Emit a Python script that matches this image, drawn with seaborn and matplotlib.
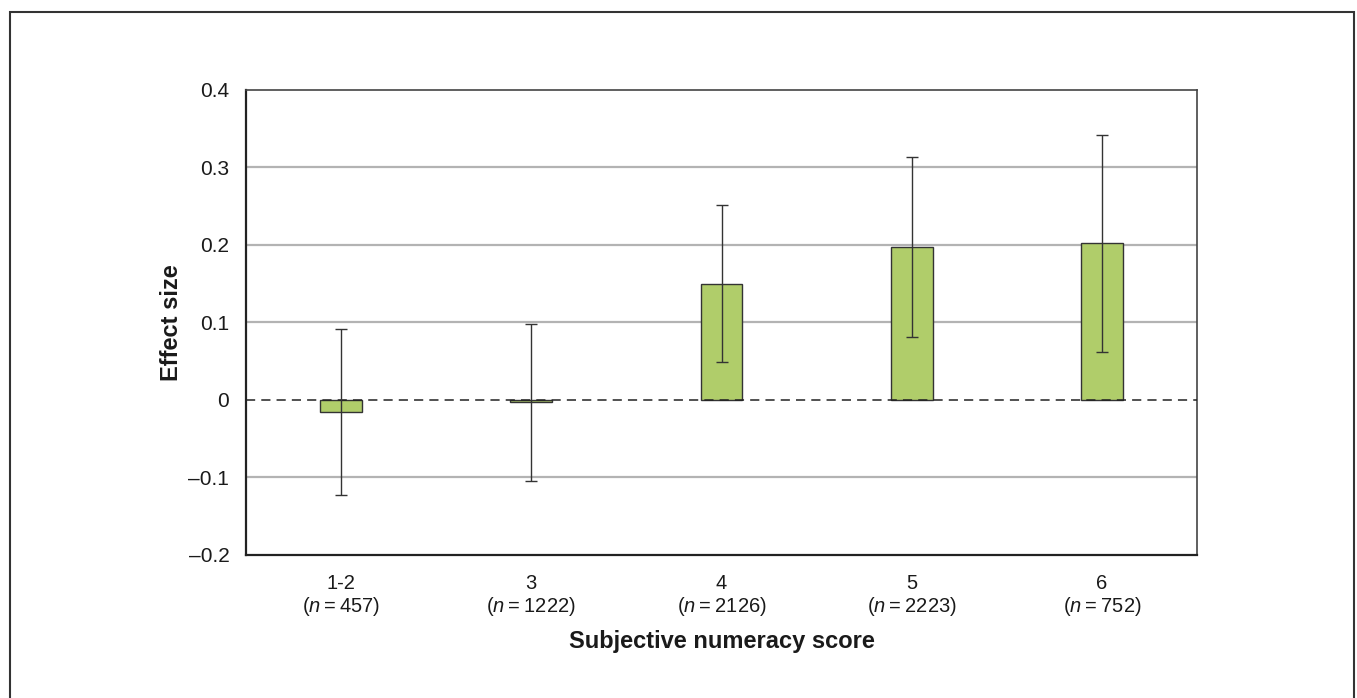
import numpy as np
import pandas as pd
import matplotlib
matplotlib.use("Agg")
import matplotlib.pyplot as plt
import seaborn as sns
from matplotlib.patches import Rectangle

# dados
categorias = ["1-2", "3", "4", "5", "6"]
n_amostra = [457, 1222, 2126, 2223, 752]
efeito = [-0.015, -0.003, 0.150, 0.198, 0.202]
ic_sup = [0.092, 0.098, 0.251, 0.314, 0.342]
ic_inf = [-0.122, -0.104, 0.049, 0.081, 0.062]

rotulos = [f"{c}\n($n$\u2009=\u2009{n})" for c, n in zip(categorias, n_amostra)]
df = pd.DataFrame({"Score": rotulos, "Efeito": efeito})

sns.set_style("white")
plt.rcParams["font.family"] = ["Liberation Sans", "DejaVu Sans"]
plt.rcParams["mathtext.fontset"] = "custom"
plt.rcParams["mathtext.it"] = "Liberation Sans:italic"
plt.rcParams["mathtext.rm"] = "Liberation Sans"

fig = plt.figure(figsize=(13.57, 6.98), dpi=100)
ax = fig.add_axes([0.1813, 0.2049, 0.7008, 0.6662])

ax.set_ylim(-0.2, 0.4)
ax.set_yticks([-0.2, -0.1, 0, 0.1, 0.2, 0.3, 0.4])
for y in [-0.1, 0.1, 0.2, 0.3]:
    ax.axhline(y, color="#b3b3b3", lw=1.6, zorder=0)

sns.barplot(data=df, x="Score", y="Efeito", color="#b0cd6a", width=0.22,
            edgecolor="#333333", linewidth=1.0, errorbar=None, saturation=1,
            ax=ax, zorder=2)

ax.axhline(0, color="#222222", lw=1.1, ls=(0, (6, 4)), zorder=3)

pos = np.arange(len(categorias))
err = [np.array(efeito) - np.array(ic_inf), np.array(ic_sup) - np.array(efeito)]
ax.errorbar(pos, efeito, yerr=err, fmt="none", ecolor="#333333", elinewidth=1.0,
            capsize=4.5, capthick=1.0, zorder=4)

ax.set_xlim(-0.5, len(categorias) - 0.5)
ax.set_yticklabels(["\u20130.2", "\u20130.1", "0", "0.1", "0.2", "0.3", "0.4"])
ax.tick_params(axis="y", length=6, width=1, color="#222222", labelsize=15, pad=6,
               labelcolor="#1a1a1a")
ax.tick_params(axis="x", length=0, labelsize=14.5, pad=14, labelcolor="#1a1a1a")
for lbl in ax.get_xticklabels():
    lbl.set_linespacing(1.12)

for s in ["left", "bottom"]:
    ax.spines[s].set_color("#222222")
    ax.spines[s].set_linewidth(1.6)
for s in ["top", "right"]:
    ax.spines[s].set_color("#444444")
    ax.spines[s].set_linewidth(1.2)

ax.set_xlabel("Subjective numeracy score", fontsize=17, fontweight="bold", labelpad=8,
              color="#1a1a1a")
ax.set_ylabel("Effect size", fontsize=17, fontweight="bold", labelpad=4, color="#1a1a1a")

borda = Rectangle((10 / 1357, -0.05), 1344 / 1357, 1.05 - 12 / 698, transform=fig.transFigure,
                  fill=False, edgecolor="#333333", lw=1.5, clip_on=False)
fig.patches.append(borda)

fig.savefig("out.png", dpi=100)
